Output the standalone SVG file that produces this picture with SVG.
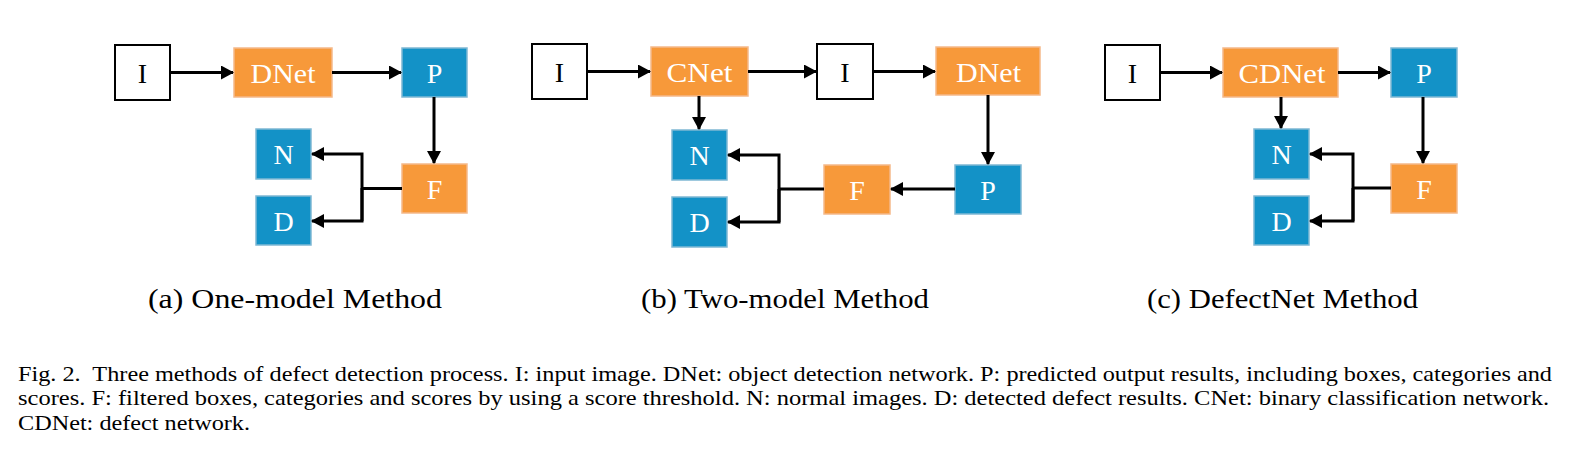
<svg xmlns="http://www.w3.org/2000/svg" width="1579" height="476" viewBox="0 0 1579 476">
<style>
.w{fill:#fff;stroke:#000;stroke-width:2}
.o{fill:#F7993A;stroke:#F5B98A;stroke-width:1.5}
.b{fill:#1392C7;stroke:#7FB8D4;stroke-width:1.5}
.t{font-family:"Liberation Serif","Times New Roman",serif;font-size:28px;text-anchor:middle}
.tw{fill:#fff}
.tb{fill:#000}
.c{font-family:"Liberation Serif","Times New Roman",serif;font-size:28px;fill:#000}
.f{font-family:"Liberation Serif","Times New Roman",serif;font-size:21px;fill:#000}
.e{fill:none;stroke:#000;stroke-width:3}
</style>
<defs>
<marker id="ah" markerUnits="userSpaceOnUse" markerWidth="13" markerHeight="14" refX="12" refY="7" orient="auto">
<path d="M0,0 L13,7 L0,14 z" fill="#000"/>
</marker>
</defs>
<rect width="1579" height="476" fill="#fff"/>

<!-- (a) -->
<g id="a_I"><rect class="w" x="115" y="45" width="55" height="55"/><text class="t tb" x="142.5" y="83">I</text></g>
<g id="a_DNet"><rect class="o" x="234" y="48" width="98" height="49"/><text class="t tw" x="283" y="83" textLength="65" lengthAdjust="spacingAndGlyphs">DNet</text></g>
<g id="a_P"><rect class="b" x="402" y="48" width="65" height="49"/><text class="t tw" x="434.5" y="83">P</text></g>
<g id="a_F"><rect class="o" x="402" y="164" width="65" height="49"/><text class="t tw" x="434.5" y="199">F</text></g>
<g id="a_N"><rect class="b" x="256" y="129" width="55" height="50"/><text class="t tw" x="283.5" y="164">N</text></g>
<g id="a_D"><rect class="b" x="256" y="196" width="55" height="49"/><text class="t tw" x="283.5" y="231">D</text></g>

<!-- (b) -->
<g id="b_I1"><rect class="w" x="532" y="44" width="55" height="55"/><text class="t tb" x="559.5" y="82">I</text></g>
<g id="b_CNet"><rect class="o" x="651" y="47" width="97" height="49"/><text class="t tw" x="699.5" y="82" textLength="66" lengthAdjust="spacingAndGlyphs">CNet</text></g>
<g id="b_I2"><rect class="w" x="817" y="44" width="56" height="55"/><text class="t tb" x="845" y="82">I</text></g>
<g id="b_DNet"><rect class="o" x="936" y="47" width="104" height="48"/><text class="t tw" x="988.5" y="82" textLength="65" lengthAdjust="spacingAndGlyphs">DNet</text></g>
<g id="b_P"><rect class="b" x="955" y="165" width="66" height="49"/><text class="t tw" x="988" y="200">P</text></g>
<g id="b_F"><rect class="o" x="824" y="165" width="66" height="49"/><text class="t tw" x="857" y="200">F</text></g>
<g id="b_N"><rect class="b" x="672" y="130" width="55" height="50"/><text class="t tw" x="699.5" y="165">N</text></g>
<g id="b_D"><rect class="b" x="672" y="197" width="55" height="50"/><text class="t tw" x="699.5" y="232">D</text></g>

<!-- (c) -->
<g id="c_I"><rect class="w" x="1105" y="45" width="55" height="55"/><text class="t tb" x="1132.5" y="83">I</text></g>
<g id="c_CDNet"><rect class="o" x="1223" y="48" width="115" height="49"/><text class="t tw" x="1282" y="83" textLength="87" lengthAdjust="spacingAndGlyphs">CDNet</text></g>
<g id="c_P"><rect class="b" x="1391" y="48" width="66" height="49"/><text class="t tw" x="1424" y="83">P</text></g>
<g id="c_F"><rect class="o" x="1391" y="164" width="66" height="49"/><text class="t tw" x="1424" y="199">F</text></g>
<g id="c_N"><rect class="b" x="1254" y="129" width="55" height="50"/><text class="t tw" x="1281.5" y="164">N</text></g>
<g id="c_D"><rect class="b" x="1254" y="196" width="55" height="49"/><text class="t tw" x="1281.5" y="231">D</text></g>

<g id="connectors">
<!-- a -->
<path class="e" d="M170,72.5 H233" marker-end="url(#ah)"/>
<path class="e" d="M332,72.5 H401" marker-end="url(#ah)"/>
<path class="e" d="M434,97 V163" marker-end="url(#ah)"/>
<path class="e" d="M402,188.5 H362"/>
<path class="e" d="M362,221 V154 H312" marker-end="url(#ah)"/>
<path class="e" d="M362,188 V221 H312" marker-end="url(#ah)"/>
<!-- b -->
<path class="e" d="M587,71.5 H650" marker-end="url(#ah)"/>
<path class="e" d="M748,71.5 H816" marker-end="url(#ah)"/>
<path class="e" d="M873,71.5 H935" marker-end="url(#ah)"/>
<path class="e" d="M699,96 V129" marker-end="url(#ah)"/>
<path class="e" d="M988,95 V164" marker-end="url(#ah)"/>
<path class="e" d="M955,189 H891" marker-end="url(#ah)"/>
<path class="e" d="M824,189 H779"/>
<path class="e" d="M779,222 V155 H728" marker-end="url(#ah)"/>
<path class="e" d="M779,189 V222 H728" marker-end="url(#ah)"/>
<!-- c -->
<path class="e" d="M1160,72.5 H1222" marker-end="url(#ah)"/>
<path class="e" d="M1338,72.5 H1390" marker-end="url(#ah)"/>
<path class="e" d="M1281,97 V128" marker-end="url(#ah)"/>
<path class="e" d="M1423,97 V163" marker-end="url(#ah)"/>
<path class="e" d="M1391,188 H1353"/>
<path class="e" d="M1353,221 V154 H1310" marker-end="url(#ah)"/>
<path class="e" d="M1353,188 V221 H1310" marker-end="url(#ah)"/>
</g>

<text class="c" x="148" y="308" textLength="294" lengthAdjust="spacingAndGlyphs">(a) One-model Method</text>
<text class="c" x="641" y="308" textLength="288" lengthAdjust="spacingAndGlyphs">(b) Two-model Method</text>
<text class="c" x="1147" y="308" textLength="271" lengthAdjust="spacingAndGlyphs">(c) DefectNet Method</text>

<text class="f" x="18" y="381" textLength="1534" lengthAdjust="spacingAndGlyphs" xml:space="preserve">Fig. 2.  Three methods of defect detection process. I: input image. DNet: object detection network. P: predicted output results, including boxes, categories and</text>
<text class="f" x="18" y="405" textLength="1531" lengthAdjust="spacingAndGlyphs">scores. F: filtered boxes, categories and scores by using a score threshold. N: normal images. D: detected defect results. CNet: binary classification network.</text>
<text class="f" x="18" y="430" textLength="232" lengthAdjust="spacingAndGlyphs">CDNet: defect network.</text>
</svg>
